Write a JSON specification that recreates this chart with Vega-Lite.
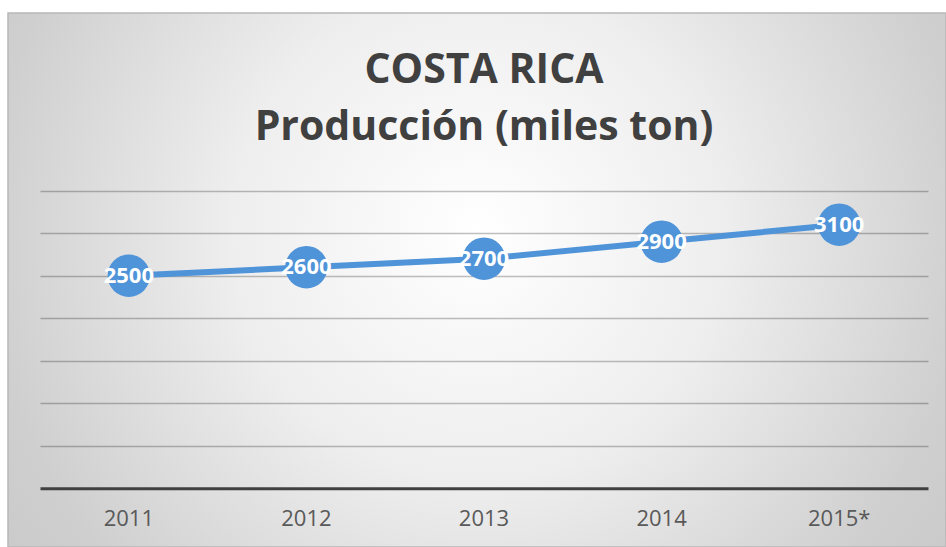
{
  "$schema": "https://vega.github.io/schema/vega-lite/v6.json",
  "autosize": {"type": "none"},
  "padding": {"left": 8, "top": 13, "right": 0, "bottom": 0},
  "width": 938,
  "height": 534,
  "background": "#ffffff",
  "view": {
    "fill": {"gradient": "radial", "x1": 0.5, "y1": 0.45, "r1": 0, "x2": 0.5, "y2": 0.45, "r2": 0.75,
      "stops": [{"offset": 0, "color": "#ffffff"}, {"offset": 0.35, "color": "#eeeeee"}, {"offset": 0.7, "color": "#cfcfcf"}, {"offset": 1, "color": "#c2c2c2"}]},
    "stroke": "#b8b8b8",
    "strokeWidth": 1.5
  },
  "title": {
    "text": ["COSTA RICA", "Producción (miles ton)"],
    "font": "Open Sans",
    "fontSize": 41,
    "fontWeight": "bold",
    "color": "#404040",
    "lineHeight": 57,
    "anchor": "middle",
    "dx": 7,
    "offset": -136
  },
  "data": {
    "values": [
      {"year": "2011", "value": 2500},
      {"year": "2012", "value": 2600},
      {"year": "2013", "value": 2700},
      {"year": "2014", "value": 2900},
      {"year": "2015*", "value": 3100}
    ]
  },
  "encoding": {
    "x": {
      "field": "year", "type": "nominal", "sort": null,
      "scale": {"type": "band", "range": [32, 920], "paddingInner": 0, "paddingOuter": 0},
      "axis": {
        "title": null, "orient": "bottom", "offset": -58.7, "ticks": false,
        "domainColor": "#404040", "domainWidth": 3, "labelAngle": 0,
        "labelFont": "Open Sans", "labelFontSize": 22, "labelColor": "#595959", "labelPadding": 20
      }
    },
    "y": {
      "field": "value", "type": "quantitative",
      "scale": {"domain": [0, 3500], "range": [475.3, 177.7], "nice": false, "zero": true},
      "axis": {
        "title": null, "values": [500, 1000, 1500, 2000, 2500, 3000, 3500],
        "labels": false, "ticks": false, "domain": false,
        "grid": true, "gridColor": "#000000", "gridOpacity": 0.25, "gridWidth": 1.5
      }
    }
  },
  "layer": [
    {"mark": {"type": "line", "color": "#4f93d8", "strokeWidth": 6}},
    {"mark": {"type": "point", "shape": "circle", "filled": true, "opacity": 1, "size": 1800, "color": "#4f93d8"}},
    {"mark": {"type": "text", "color": "#ffffff", "font": "Open Sans", "fontWeight": "bold", "fontSize": 22, "baseline": "middle", "align": "center"},
     "encoding": {"text": {"field": "value", "type": "quantitative", "format": "d"}}}
  ]
}
